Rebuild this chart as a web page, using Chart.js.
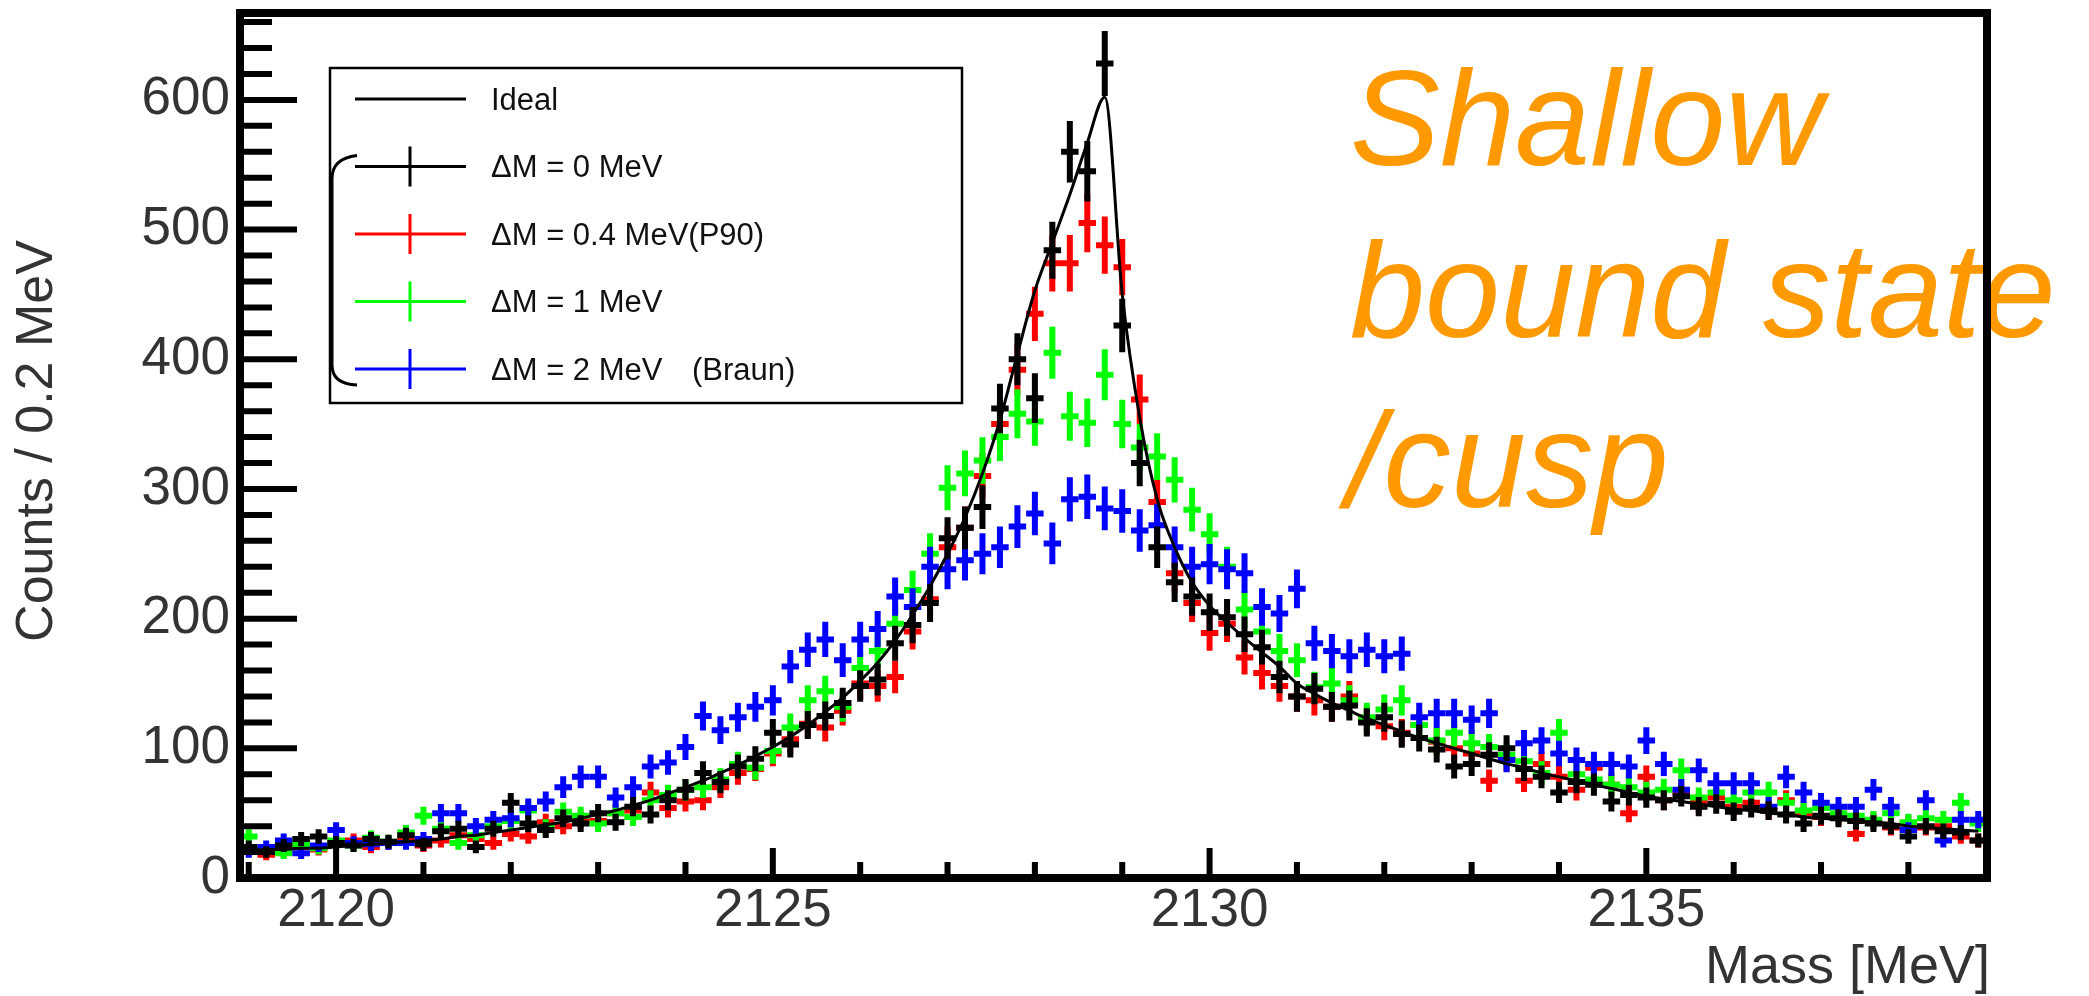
<!DOCTYPE html>
<html>
<head>
<meta charset="utf-8">
<title>Shallow bound state / cusp</title>
<script src="https://cdn.jsdelivr.net/npm/chart.js@4.4.1/dist/chart.umd.min.js"></script>
<style>
    html, body { margin: 0; padding: 0; background: #fff; }
    #wrap { width: 2089px; height: 996px; }
</style>
</head>
<body>
<div id="wrap"><canvas id="massChart" width="2089" height="996"></canvas></div>
<script>
// ======================================
// DATA (bin centres in MeV, counts per 0.2 MeV)
// ======================================
const massBins = [
    2119.0, 2119.2, 2119.4, 2119.6, 2119.8, 2120.0, 2120.2, 2120.4, 2120.6, 2120.8,
    2121.0, 2121.2, 2121.4, 2121.6, 2121.8, 2122.0, 2122.2, 2122.4, 2122.6, 2122.8,
    2123.0, 2123.2, 2123.4, 2123.6, 2123.8, 2124.0, 2124.2, 2124.4, 2124.6, 2124.8,
    2125.0, 2125.2, 2125.4, 2125.6, 2125.8, 2126.0, 2126.2, 2126.4, 2126.6, 2126.8,
    2127.0, 2127.2, 2127.4, 2127.6, 2127.8, 2128.0, 2128.2, 2128.4, 2128.6, 2128.8,
    2129.0, 2129.2, 2129.4, 2129.6, 2129.8, 2130.0, 2130.2, 2130.4, 2130.6, 2130.8,
    2131.0, 2131.2, 2131.4, 2131.6, 2131.8, 2132.0, 2132.2, 2132.4, 2132.6, 2132.8,
    2133.0, 2133.2, 2133.4, 2133.6, 2133.8, 2134.0, 2134.2, 2134.4, 2134.6, 2134.8,
    2135.0, 2135.2, 2135.4, 2135.6, 2135.8, 2136.0, 2136.2, 2136.4, 2136.6, 2136.8,
    2137.0, 2137.2, 2137.4, 2137.6, 2137.8, 2138.0, 2138.2, 2138.4, 2138.6, 2138.8
];
const binWidth = 0.2;

const idealCounts = [
    21, 22, 22, 23, 23, 24, 25, 26, 27, 28,
    29, 30, 32, 33, 35, 37, 39, 41, 43, 46,
    49, 52, 56, 60, 65, 70, 75, 81, 87, 94,
    101, 109, 118, 128, 139, 152, 166, 183, 203, 225,
    250, 278, 312, 353, 404, 453, 490, 527, 567, 602,
    450, 355, 292, 255, 228, 210, 197, 185, 174, 163,
    150, 142, 135, 129, 123, 118, 113, 108, 104, 100,
    96, 92, 88, 85, 81, 78, 75, 72, 69, 66,
    63, 61, 59, 57, 55, 53, 52, 50, 49, 47,
    46, 45, 44, 43, 42, 40, 39, 38, 37, 36
];
// ΔM = 0 MeV
const counts0 = [
    24, 20, 25, 30, 32, 27, 25, 30, 28, 33,
    26, 36, 38, 24, 38, 58, 42, 37, 46, 42,
    50, 43, 55, 49, 60, 68, 81, 74, 86, 92,
    112, 103, 118, 125, 135, 148, 153, 181, 195, 212,
    262, 270, 286, 362, 400, 370, 484, 560, 545, 628,
    426, 320, 255, 228, 217, 205, 201, 188, 178, 155,
    140, 146, 132, 133, 120, 124, 111, 108, 99, 86,
    88, 95, 100, 84, 78, 66, 74, 72, 59, 64,
    62, 60, 63, 55, 57, 51, 54, 52, 49, 42,
    48, 46, 44, 42, 40, 32, 40, 36, 35, 29
];
// ΔM = 0.4 MeV (P90)
const counts04 = [
    22, 18, 20, 24, 22, 26, 29, 24, 27, 30,
    25, 29, 33, 30, 27, 34, 32, 43, 40, 45,
    44, 50, 52, 66, 54, 59, 60, 70, 81, 84,
    96, 107, 119, 116, 129, 150, 148, 155, 190, 215,
    255, 270, 310, 350, 392, 435, 474, 474, 505, 488,
    471, 369, 290, 235, 212, 189, 196, 170, 158, 148,
    140, 137, 132, 140, 122, 117, 112, 118, 105, 100,
    96, 75, 92, 75, 88, 78, 68, 85, 72, 50,
    78, 60, 66, 58, 62, 55, 58, 52, 60, 50,
    47, 48, 34, 44, 39, 42, 39, 40, 32, 29
];
// ΔM = 1 MeV
const counts1 = [
    32, 22, 19, 26, 23, 29, 25, 31, 28, 35,
    48, 38, 27, 33, 40, 44, 52, 39, 51, 48,
    42, 50, 47, 60, 64, 68, 70, 76, 88, 85,
    98, 116, 137, 144, 132, 162, 175, 196, 222, 250,
    301, 312, 322, 340, 358, 352, 405, 356, 351, 388,
    350, 332, 325, 307, 284, 265, 240, 207, 190, 175,
    168, 147, 150, 137, 124, 130, 137, 118, 106, 112,
    104, 101, 95, 90, 81, 112, 80, 76, 72, 70,
    66, 68, 83, 62, 66, 60, 66, 66, 58, 52,
    54, 50, 48, 45, 50, 43, 46, 45, 58, 42
];
// ΔM = 2 MeV (Braun)
const counts2 = [
    20, 24, 29, 19, 25, 37, 27, 26, 27, 27,
    30, 50, 50, 40, 45, 46, 54, 59, 70, 78,
    78, 62, 70, 86, 89, 101, 125, 114, 124, 132,
    137, 163, 176, 184, 168, 184, 192, 217, 209, 240,
    238, 245, 250, 255, 271, 281, 258, 292, 294, 285,
    283, 268, 272, 255, 240, 242, 238, 235, 209, 204,
    223, 181, 175, 171, 176, 171, 173, 124, 127, 127,
    122, 127, 91, 104, 106, 96, 91, 88, 88, 86,
    106, 88, 68, 83, 73, 73, 73, 55, 78, 66,
    58, 55, 55, 68, 55, 37, 60, 29, 45, 45
];

const xTicks = [2120, 2125, 2130, 2135];
const yTicks = [0, 100, 200, 300, 400, 500, 600];

const legendLabels = ["Ideal", "ΔM = 0 MeV", "ΔM = 0.4 MeV(P90)", "ΔM = 1 MeV", "ΔM = 2 MeV"];
const legendNotes = ["", "", "", "", "(Braun)"];
const legendColors = ["#000000", "#000000", "#ff0000", "#00ff00", "#0000ff"];
const noteLines = ["Shallow", "bound state", "/cusp"];

// ======================================
// HELPERS
// ======================================
const FONT = "'Liberation Sans', Arial, Helvetica, sans-serif";
const toPoints = (vals) => vals.map((v, i) => ({ x: massBins[i], y: v }));

const histSet = (label, vals, color) => ({
    label: label,
    data: toPoints(vals),
    borderColor: color,
    backgroundColor: color,
    pointRadius: 0,
    showLine: false,
    errorBars: true
});

// ======================================
// PLUGINS
// ======================================
// crosses: horizontal bar = bin width, vertical bar = sqrt(N)
const errorBars = {
    id: "errorBars",
    beforeDatasetsDraw(chart) {
        const { ctx, chartArea: a, scales: { x, y } } = chart;
        ctx.save();
        ctx.beginPath();
        ctx.rect(a.left, a.top, a.right - a.left, a.bottom - a.top);
        ctx.clip();
        ctx.lineWidth = 6;
        ctx.lineCap = "butt";
        chart.data.datasets.forEach((ds) => {
            if (!ds.errorBars) return;
            ctx.strokeStyle = ds.borderColor;
            ds.data.forEach((p) => {
                const err = Math.sqrt(p.y);
                const px = x.getPixelForValue(p.x);
                const py = y.getPixelForValue(p.y);
                ctx.beginPath();
                ctx.moveTo(x.getPixelForValue(p.x - binWidth / 2), py);
                ctx.lineTo(x.getPixelForValue(p.x + binWidth / 2), py);
                ctx.moveTo(px, y.getPixelForValue(p.y - err));
                ctx.lineTo(px, y.getPixelForValue(p.y + err));
                ctx.stroke();
            });
        });
        ctx.restore();
    }
};

// orange note, axis titles, frame with ROOT style ticks, legend
const decorations = {
    id: "decorations",
    afterDraw(chart) {
        const { ctx, chartArea: a, scales: { x, y } } = chart;
        ctx.save();

        // --- note text
        ctx.fillStyle = "#ff9900";
        ctx.font = "italic 135px " + FONT;
        ctx.textBaseline = "alphabetic";
        ctx.textAlign = "left";
        ctx.fillText(noteLines[0], 1350, 165);
        ctx.fillText(noteLines[1], 1350, 337);
        ctx.fillText(noteLines[2], 1346, 507);

        // --- axis titles
        ctx.fillStyle = "#333";
        ctx.font = "54px " + FONT;
        ctx.textAlign = "right";
        ctx.fillText("Mass [MeV]", a.right + 3, 983);
        ctx.save();
        ctx.translate(38, 441);
        ctx.rotate(-Math.PI / 2);
        ctx.font = "52px " + FONT;
        ctx.textAlign = "center";
        ctx.textBaseline = "middle";
        ctx.fillText("Counts / 0.2 MeV", 0, 0);
        ctx.restore();

        // --- ticks
        ctx.strokeStyle = "#000";
        ctx.lineWidth = 6;
        ctx.beginPath();
        for (let v = 20; v < y.max; v += 20) {
            const py = y.getPixelForValue(v);
            const len = v % 100 === 0 ? 57 : 32;
            ctx.moveTo(a.left, py);
            ctx.lineTo(a.left + len, py);
        }
        for (let v = Math.ceil(x.min); v < x.max; v += 1) {
            const px = x.getPixelForValue(v);
            const len = v % 5 === 0 ? 30 : 16;
            ctx.moveTo(px, a.bottom);
            ctx.lineTo(px, a.bottom - len);
        }
        ctx.stroke();

        // --- frame
        ctx.lineWidth = 8;
        ctx.strokeRect(a.left, a.top, a.right - a.left, a.bottom - a.top);

        // --- legend
        const lx = a.left + 90, ly = a.top + 55, lw = 632, lh = 335;
        ctx.fillStyle = "#fff";
        ctx.fillRect(lx, ly, lw, lh);
        ctx.lineWidth = 2.5;
        ctx.strokeRect(lx, ly, lw, lh);
        ctx.font = "31px " + FONT;
        ctx.textAlign = "left";
        ctx.textBaseline = "middle";
        legendLabels.forEach((label, i) => {
            const ry = ly + 31 + i * 67.5;
            ctx.strokeStyle = legendColors[i];
            ctx.lineWidth = 3;
            ctx.beginPath();
            ctx.moveTo(lx + 25, ry);
            ctx.lineTo(lx + 136, ry);
            if (i > 0) {
                ctx.moveTo(lx + 80, ry - 20);
                ctx.lineTo(lx + 80, ry + 20);
            }
            ctx.stroke();
            ctx.fillStyle = "#111";
            ctx.fillText(label, lx + 161, ry + 2);
            if (legendNotes[i]) ctx.fillText(legendNotes[i], lx + 362, ry + 2);
        });
        // bracket joining the smeared entries
        const r1 = ly + 31 + 67.5, r4 = ly + 31 + 4 * 67.5;
        ctx.strokeStyle = "#000";
        ctx.lineWidth = 3;
        ctx.beginPath();
        ctx.moveTo(lx + 27, r1 - 11);
        ctx.quadraticCurveTo(lx + 2, r1 - 8, lx + 2, r1 + 12);
        ctx.lineTo(lx + 2, r4 - 4);
        ctx.quadraticCurveTo(lx + 2, r4 + 15, lx + 27, r4 + 16);
        ctx.stroke();

        ctx.restore();
    }
};

// ======================================
// CHART INIT
// ======================================
Chart.defaults.font.family = FONT;
Chart.defaults.color = "#333";

// drop the label overhang padding so the frame sits where ROOT put it
const noPad = (s) => {
    s.paddingTop = 0;
    s.paddingBottom = 0;
    s.paddingLeft = 0;
    s.paddingRight = 0;
};

const ctx = document.getElementById("massChart");
const chart = new Chart(ctx, {
    type: "scatter",
    data: {
        datasets: [
            histSet("ΔM = 0.4 MeV", counts04, "#ff0000"),
            histSet("ΔM = 1 MeV", counts1, "#00ff00"),
            histSet("ΔM = 2 MeV", counts2, "#0000ff"),
            histSet("ΔM = 0 MeV", counts0, "#000000"),
            {
                label: "Ideal",
                data: toPoints(idealCounts),
                borderColor: "#000000",
                borderWidth: 3,
                pointRadius: 0,
                showLine: true,
                cubicInterpolationMode: "monotone"
            }
        ]
    },
    options: {
        responsive: false,
        animation: false,
        devicePixelRatio: 1,
        layout: { padding: { left: 0, top: 13, right: 102, bottom: 0 } },
        plugins: {
            legend: { display: false },
            tooltip: { enabled: false }
        },
        scales: {
            x: {
                type: "linear",
                min: 2118.9,
                max: 2138.9,
                grid: { display: false, drawTicks: false },
                border: { display: false },
                afterBuildTicks: (s) => { s.ticks = xTicks.map(v => ({ value: v })); },
                afterFit: (s) => { s.height = 118; noPad(s); },
                ticks: {
                    padding: 2,
                    maxRotation: 0,
                    font: { size: 53 },
                    color: "#333",
                    callback: (v) => String(v)
                }
            },
            y: {
                type: "linear",
                min: 0,
                max: 667,
                grid: { display: false, drawTicks: false },
                border: { display: false },
                afterBuildTicks: (s) => { s.ticks = yTicks.map(v => ({ value: v })); },
                afterFit: (s) => { s.width = 240; noPad(s); },
                ticks: {
                    padding: 10,
                    font: { size: 53 },
                    color: "#333",
                    callback: (v) => String(v)
                }
            }
        }
    },
    plugins: [errorBars, decorations]
});
</script>
</body>
</html>
